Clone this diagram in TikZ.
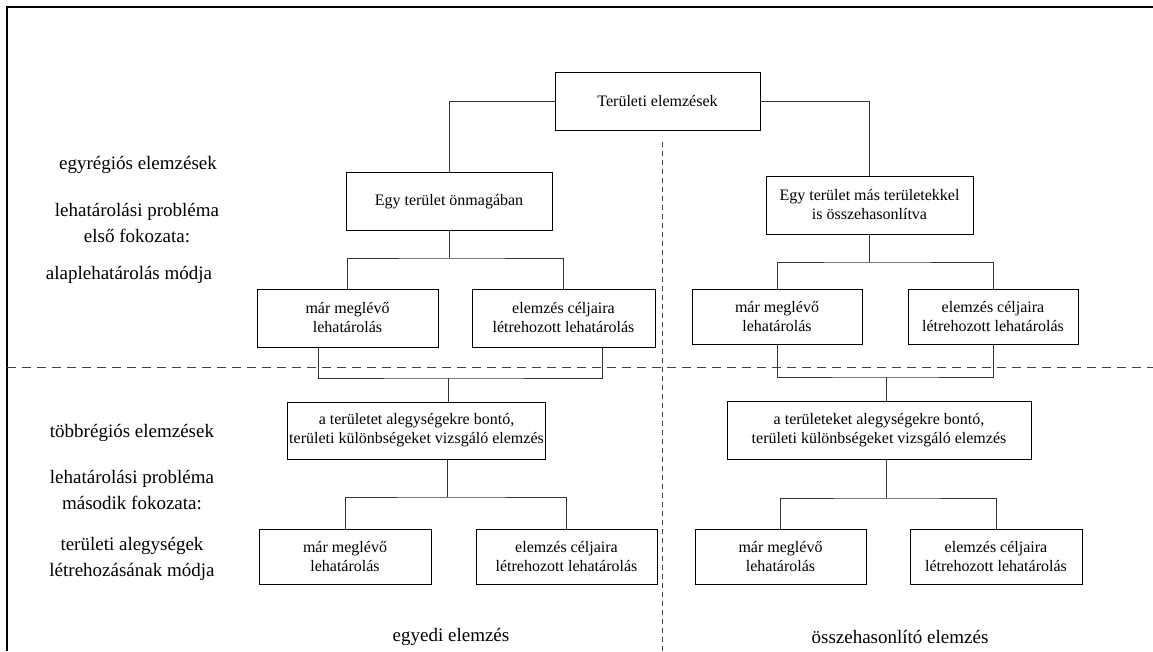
\documentclass[tikz,border=0pt]{standalone}
\usepackage{fontspec}
\setmainfont{Liberation Serif}
\tikzset{
	doboz/.style={draw, line width=0.9pt, inner sep=2pt, align=center, minimum height=58pt, font=\fontsize{16}{19}\selectfont},
	felirat/.style={align=center, font=\fontsize{19}{26}\selectfont},
	vonal/.style={line width=1pt, black!80},
	szaggatott/.style={line width=0.9pt, black!75, dash pattern=on 9pt off 6pt}
}
\begin{document}
\begin{tikzpicture}[x=1pt, y=-1pt]
	\useasboundingbox (0,0) rectangle (1153,651);
	\draw[line width=1.2pt] (1153,7) -- (7,7) -- (7,651);
	% dashed split lines
	\draw[szaggatott] (7,367) -- (1153,367);
	\draw[szaggatott, dash pattern=on 5pt off 4pt] (662,142) -- (662,651);

	\node[doboz, minimum width=205pt] (top) at (657.5,101) {Területi elemzések};
	\node[doboz, minimum width=206pt] (a1) at (449,201.5) {Egy terület önmagában};
	\node[doboz, minimum width=207pt] (b1) at (869.5,205) {Egy terület más területekkel\\is összehasonlítva};
	\node[doboz, minimum width=181pt] (a11) at (347.5,318) {már meglévő\\lehatárolás};
	\node[doboz, minimum width=183pt] (a12) at (563.5,318) {elemzés céljaira\\létrehozott lehatárolás};
	\node[doboz, minimum width=170pt, minimum height=55pt] (b11) at (777,316.5) {már meglévő\\lehatárolás};
	\node[doboz, minimum width=170pt, minimum height=55pt] (b12) at (993,316.5) {elemzés céljaira\\létrehozott lehatárolás};
	\node[doboz, minimum width=241pt, minimum height=57pt] (a2) at (416.5,430.5) {a területet alegységekre bontó,\\területi különbségeket vizsgáló elemzés};
	\node[doboz, minimum width=304pt] (b2) at (879,430.5) {a területeket alegységekre bontó,\\területi különbségeket vizsgáló elemzés};
	\node[doboz, minimum width=172pt, minimum height=55pt] (a21) at (345,556.5) {már meglévő\\lehatárolás};
	\node[doboz, minimum width=181pt, minimum height=55pt] (a22) at (566.5,556.5) {elemzés céljaira\\létrehozott lehatárolás};
	\node[doboz, minimum width=171pt, minimum height=55pt] (b21) at (780.5,556.5) {már meglévő\\lehatárolás};
	\node[doboz, minimum width=172pt, minimum height=55pt] (b22) at (996,556.5) {elemzés céljaira\\létrehozott lehatárolás};

	\coordinate (ja) at (449,258);
	\coordinate (jb) at (869.5,262);
	\coordinate (ka) at (448,378);
	\coordinate (kb) at (886,377);
	\coordinate (la) at (447,497);
	\coordinate (lb) at (886,498);

	\draw[vonal] (top.west) -| (a1.north);
	\draw[vonal] (top.east) -| (b1.north);
	\draw[vonal] (a1.south) -- (ja);
	\draw[vonal] (a11.north) |- (ja) -| (a12.north);
	\draw[vonal] (b1.south) -- (jb);
	\draw[vonal] (b11.north) |- (jb) -| (b12.north);
	\draw[vonal] ([xshift=-29pt]a11.south) |- (ka) -| ([xshift=39pt]a12.south);
	\draw[vonal] (ka) -- (ka |- a2.north);
	\draw[vonal] (b11.south) |- (kb) -| (b12.south);
	\draw[vonal] (kb) -- (kb |- b2.north);
	\draw[vonal] (la |- a2.south) -- (la);
	\draw[vonal] (a21.north) |- (la) -| (a22.north);
	\draw[vonal] (lb |- b2.south) -- (lb);
	\draw[vonal] (b21.north) |- (lb) -| (b22.north);

	\node[felirat] (t1) at (138,165) {egyrégiós elemzések};
	\node[felirat] (t2) at (137,223) {lehatárolási probléma\\első fokozata:};
	\node[felirat] (t3) at (129,275) {alaplehatárolás módja};
	\node[felirat] (t4) at (132,433) {többrégiós elemzések};
	\node[felirat] (t5) at (132,490) {lehatárolási probléma\\második fokozata:};
	\node[felirat] (t6) at (132,559) {területi alegységek\\létrehozásának módja};
	\node[felirat] (t7) at (451,637) {egyedi elemzés};
	\node[felirat] (t8) at (900,637) {összehasonlító elemzés};
\end{tikzpicture}
\end{document}
